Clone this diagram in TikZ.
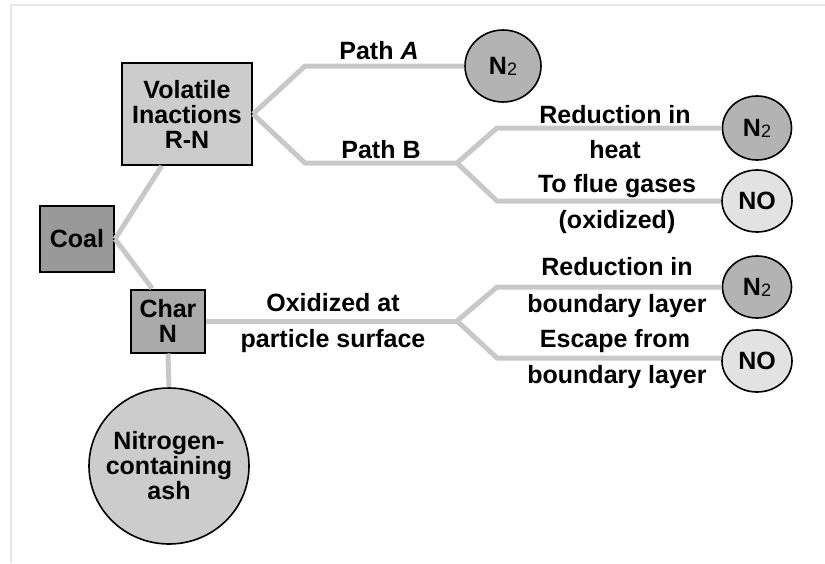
\documentclass[tikz,border=0pt]{standalone}
\usepackage{fontspec}
\setmainfont{Liberation Sans}
\usetikzlibrary{shapes.geometric}
\definecolor{volfill}{HTML}{CCCCCC}
\definecolor{coalfill}{HTML}{999999}
\definecolor{charfill}{HTML}{AAAAAA}
\definecolor{ashfill}{HTML}{CCCCCC}
\definecolor{ntwo}{HTML}{B3B3B3}
\definecolor{nofill}{HTML}{E2E2E2}
\definecolor{conncol}{HTML}{C8C8C8}
\definecolor{framecol}{HTML}{E6E6E6}
\tikzset{
  x=1pt, y=-1pt,
  txt/.style={font=\fontsize{25}{25}\selectfont\bfseries, align=center, inner sep=0pt},
  box/.style={draw=black, line width=2pt, txt, rectangle},
  blob/.style={draw=black, line width=1.6pt, txt, ellipse, inner sep=0pt},
  conn/.style={draw=conncol, line width=5pt, line join=round},
  lbl/.style={txt}
}
\newcommand{\Ntwo}{N{\fontsize{18}{18}\selectfont\mdseries\raisebox{-1pt}{2}}}
\begin{document}
\begin{tikzpicture}
\useasboundingbox (0,0) rectangle (825,563);
\draw[framecol, line width=2pt] (11,563) -- (11,5) -- (825,5);

% bend coordinates
\coordinate (bA) at (305,66);
\coordinate (bB) at (305,163);
\coordinate (jB) at (457,163);
\coordinate (b1) at (497,128);
\coordinate (b2) at (497,201);
\coordinate (jC) at (457,321);
\coordinate (b3) at (497,287);
\coordinate (b4) at (497,358);

% nodes
\node[box, fill=volfill, minimum width=130, minimum height=102] (vol) at (187,114) {Volatile\\Inactions\\R-N};
\node[box, fill=coalfill, minimum width=74, minimum height=66] (coal) at (77,239) {Coal};
\node[box, fill=charfill, minimum width=74, minimum height=63] (char) at (168,321) {Char\\N};
\node[blob, fill=ashfill, inner xsep=-9pt, minimum width=160, minimum height=156] (ash) at (169,466) {Nitrogen-\\containing\\ash};
\node[blob, fill=ntwo, minimum width=76, minimum height=72] (n2a) at (503,66) {\Ntwo};
\node[blob, fill=ntwo, minimum width=69, minimum height=64] (n2b) at (757,128) {\Ntwo};
\node[blob, fill=nofill, minimum width=70, minimum height=62] (nob) at (757,201) {NO};
\node[blob, fill=ntwo, minimum width=69, minimum height=62] (n2c) at (757,287) {\Ntwo};
\node[blob, fill=nofill, minimum width=70, minimum height=62] (noc) at (757,361) {NO};

% connectors
\draw[conn] (coal.east) -- (vol.244);
\draw[conn] (coal.east) -- (char.116);
\draw[conn] (vol.east) -- (bA) -- (n2a.west);
\draw[conn] (vol.east) -- (bB) -- (jB);
\draw[conn] (jB) -- (b1) -- (n2b.west);
\draw[conn] (jB) -- (b2) -- (nob.west);
\draw[conn] (char.east) -- (jC);
\draw[conn] (jC) -- (b3) -- (n2c.west);
\draw[conn] (jC) -- (b4) -- (b4 -| noc.west);
\draw[conn] (char.south) -- (ash.north);

% labels
\node[lbl] (pa) at (379,51) {Path \textit{A}};
\node[lbl] (pb) at (381,150) {Path B};
\node[lbl] (r1) at (615,115) {Reduction in};
\node[lbl] (r1b) at (615,150) {heat};
\node[lbl] (f1) at (617,186) {To flue gases};
\node[lbl] (f1b) at (617,222) {(oxidized)};
\node[lbl] (r2) at (617,267) {Reduction in};
\node[lbl] (r2b) at (617,306) {boundary layer};
\node[lbl] (e1) at (615,341) {Escape from};
\node[lbl] (e1b) at (617,377) {boundary layer};
\node[lbl] (ox) at (333,303) {Oxidized at};
\node[lbl] (oxb) at (333,341) {particle surface};
\end{tikzpicture}
\end{document}
